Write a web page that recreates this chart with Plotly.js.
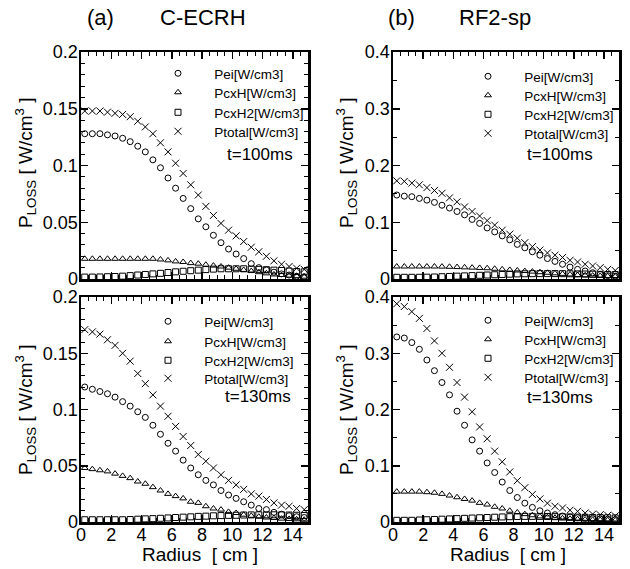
<!DOCTYPE html>
<html>
<head>
<meta charset="utf-8">
<script src="https://cdn.plot.ly/plotly-3.0.1.min.js"></script>
<style>html,body{margin:0;padding:0;background:#fff;}#chart{width:630px;height:569px;}</style>
</head>
<body>
<div id="chart"></div>
<script>
// ---- data ----
const radius = [0.25,0.75,1.25,1.75,2.25,2.75,3.25,3.75,4.25,4.75,5.25,5.75,6.25,6.75,7.25,7.75,8.25,8.75,9.25,9.75,10.25,10.75,11.25,11.75,12.25,12.75,13.25,13.75,14.25,14.75];
const seriesNames = ["Pei[W/cm3]","PcxH[W/cm3]","PcxH2[W/cm3]","Ptotal[W/cm3]"];

// (a) C-ECRH, t=100ms
const a100_pei   = [0.128,0.128,0.128,0.127,0.126,0.124,0.121,0.117,0.112,0.105,0.098,0.089,0.080,0.071,0.062,0.053,0.046,0.0385,0.032,0.0264,0.022,0.018,0.0135,0.010,0.008,0.006,0.0045,0.0035,0.0025,0.002];
const a100_pcxh  = [0.0178,0.0178,0.0178,0.0178,0.0178,0.0178,0.0178,0.0178,0.0178,0.0178,0.0172,0.0164,0.0155,0.015,0.014,0.0135,0.0126,0.0118,0.011,0.010,0.009,0.008,0.007,0.006,0.005,0.004,0.0035,0.003,0.0025,0.002];
const a100_pcxh2 = [0.0017,0.0017,0.0018,0.002,0.0022,0.0025,0.003,0.0035,0.004,0.0045,0.005,0.0057,0.0063,0.0068,0.0073,0.0078,0.0083,0.0087,0.009,0.009,0.009,0.009,0.0088,0.0085,0.0082,0.0078,0.0075,0.007,0.0066,0.0063];
const a100_ptot  = [0.148,0.148,0.148,0.147,0.146,0.145,0.143,0.139,0.134,0.128,0.120,0.112,0.102,0.093,0.083,0.074,0.064,0.056,0.049,0.043,0.038,0.033,0.028,0.024,0.020,0.016,0.013,0.011,0.0095,0.0085];

// (b) RF2-sp, t=100ms
const b100_pei   = [0.148,0.146,0.145,0.142,0.139,0.135,0.130,0.125,0.119,0.113,0.105,0.098,0.090,0.083,0.076,0.069,0.061,0.055,0.048,0.042,0.036,0.031,0.026,0.021,0.017,0.014,0.011,0.008,0.006,0.005];
const b100_pcxh  = [0.022,0.022,0.022,0.022,0.022,0.022,0.0218,0.0215,0.021,0.0205,0.020,0.0195,0.019,0.018,0.017,0.016,0.015,0.014,0.013,0.012,0.011,0.010,0.009,0.008,0.007,0.0065,0.006,0.0055,0.005,0.0045];
const b100_pcxh2 = [0.003,0.003,0.003,0.003,0.0032,0.0035,0.004,0.0045,0.005,0.0055,0.006,0.0065,0.007,0.0075,0.008,0.0085,0.009,0.0092,0.0094,0.0095,0.0095,0.0095,0.0094,0.0092,0.009,0.0088,0.0085,0.0082,0.008,0.0078];
const b100_ptot  = [0.173,0.172,0.169,0.166,0.161,0.156,0.151,0.143,0.136,0.127,0.119,0.111,0.103,0.095,0.086,0.079,0.072,0.064,0.057,0.051,0.046,0.042,0.038,0.033,0.030,0.026,0.023,0.020,0.017,0.015];

// (a) C-ECRH, t=130ms
const a130_pei   = [0.120,0.118,0.116,0.114,0.111,0.107,0.103,0.098,0.093,0.086,0.078,0.070,0.063,0.055,0.048,0.042,0.037,0.033,0.028,0.024,0.021,0.018,0.015,0.012,0.011,0.0086,0.007,0.0056,0.0047,0.004];
const a130_pcxh  = [0.048,0.047,0.046,0.045,0.043,0.041,0.039,0.036,0.034,0.031,0.028,0.025,0.023,0.021,0.018,0.017,0.014,0.012,0.011,0.009,0.008,0.0065,0.0055,0.0047,0.004,0.0035,0.003,0.0027,0.0024,0.002];
const a130_pcxh2 = [0.002,0.002,0.002,0.002,0.002,0.002,0.0022,0.0025,0.0028,0.003,0.0033,0.0036,0.004,0.0043,0.0046,0.005,0.0052,0.0055,0.0057,0.0059,0.006,0.0062,0.0063,0.0064,0.0064,0.0064,0.0063,0.0062,0.006,0.0058];
const a130_ptot  = [0.171,0.169,0.167,0.162,0.157,0.150,0.143,0.132,0.123,0.113,0.103,0.094,0.085,0.076,0.068,0.060,0.054,0.048,0.042,0.037,0.033,0.029,0.025,0.023,0.020,0.017,0.015,0.014,0.012,0.011];

// (b) RF2-sp, t=130ms
const b130_pei   = [0.329,0.327,0.319,0.307,0.288,0.269,0.248,0.226,0.197,0.172,0.146,0.126,0.105,0.088,0.071,0.056,0.0435,0.0335,0.026,0.020,0.016,0.013,0.0106,0.0088,0.0076,0.0065,0.0058,0.0052,0.0047,0.0043];
const b130_pcxh  = [0.054,0.054,0.054,0.054,0.053,0.052,0.050,0.047,0.044,0.041,0.038,0.034,0.031,0.027,0.024,0.020,0.017,0.014,0.012,0.010,0.0085,0.0075,0.0065,0.0058,0.005,0.0045,0.004,0.0037,0.0034,0.003];
const b130_pcxh2 = [0.003,0.003,0.003,0.0035,0.004,0.0045,0.005,0.0055,0.006,0.0065,0.007,0.0075,0.008,0.0085,0.009,0.0095,0.0098,0.010,0.010,0.010,0.0098,0.0095,0.0092,0.009,0.0087,0.0084,0.0081,0.0078,0.0075,0.0072];
const b130_ptot  = [0.388,0.383,0.374,0.362,0.344,0.322,0.300,0.275,0.248,0.222,0.196,0.169,0.148,0.126,0.107,0.089,0.0735,0.061,0.049,0.041,0.0335,0.028,0.025,0.021,0.019,0.016,0.014,0.013,0.012,0.011];

const timeLabels = ["t=100ms","t=100ms","t=130ms","t=130ms"];
const panelTitles = [["(a)","C-ECRH"],["(b)","RF2-sp"]];
const xTitle = "Radius  [ cm ]";
const yTitle = "P<sub>LOSS</sub> [ W/cm<sup>3</sup> ]";

// ---- layout helpers ----
const W = 630, H = 569;
const FONT = "Liberation Sans, Arial, Helvetica, sans-serif";
const px = v => v / W;
const py = v => 1 - v / H;
const GAP = "\u00a0\u00a0\u00a0";

const symbols = ["circle-open","triangle-up-open","square-open","x-thin-open"];
const sizes = [6,6,6,7];

const panels = [
  {data:[a100_pei,a100_pcxh,a100_pcxh2,a100_ptot], xa:"x",  ya:"y"},
  {data:[b100_pei,b100_pcxh,b100_pcxh2,b100_ptot], xa:"x2", ya:"y2"},
  {data:[a130_pei,a130_pcxh,a130_pcxh2,a130_ptot], xa:"x3", ya:"y3"},
  {data:[b130_pei,b130_pcxh,b130_pcxh2,b130_ptot], xa:"x4", ya:"y4"}
];

// legend rows: symbol centre x and row centre y for each panel (pixels)
const legSymX = [178, 488, 168, 488];
const legRowY = [[73,92,112,131],[76,95,114,133],[321,341,360,378],[320,339,358,377]];

const traces = [];
const legends = {};
let legIdx = 0;
panels.forEach((p, pi) => {
  p.data.forEach((vals, k) => {
    legIdx++;
    const lname = legIdx === 1 ? "legend" : "legend" + legIdx;
    traces.push({
      type:"scatter", mode:"markers", x: radius, y: vals,
      name: GAP + seriesNames[k], xaxis:p.xa, yaxis:p.ya, legend:lname,
      marker:{symbol:symbols[k], size:sizes[k], color:"#000", line:{color:"#000", width:1}},
      showlegend:true
    });
    legends[lname] = {
      x:px(legSymX[pi] - 25), y:py(legRowY[pi][k] - 15), xanchor:"left", yanchor:"top",
      bgcolor:"rgba(0,0,0,0)", borderwidth:0,
      font:{family:FONT, size:13.5, color:"#000"}, itemwidth:40
    };
  });
});

const boxes = [
  {x0:81, x1:308, y0:52,  y1:279},
  {x0:393,x1:619, y0:52,  y1:279},
  {x0:81, x1:308, y0:297, y1:522},
  {x0:393,x1:619, y0:297, y1:522}
];
const ymax = [0.2,0.4,0.2,0.4];

function xaxis(i){
  const b = boxes[i];
  return {
    domain:[px(b.x0), px(b.x1)], anchor: i===0?"y":"y"+(i+1),
    range:[0,15], dtick:2, tick0:0, ticks:"inside", ticklen:7, tickwidth:1.5, tickcolor:"#000",
    minor:{dtick:0.5, ticks:"inside", ticklen:4, tickwidth:1, tickcolor:"#000"},
    showline:true, linewidth:2.5, linecolor:"#000", mirror:"ticks",
    showgrid:false, zeroline:false, showticklabels: i>=2, ticklabelstandoff:-5,
    tickfont:{family:FONT, size:18, color:"#000"}
  };
}
function yaxis(i){
  const b = boxes[i];
  const big = ymax[i] > 0.3;
  return {
    domain:[py(b.y1), py(b.y0)], anchor: i===0?"x":"x"+(i+1),
    range:[0, ymax[i]], dtick: big?0.1:0.05, tick0:0,
    ticks:"inside", ticklen:7, tickwidth:1.5, tickcolor:"#000",
    minor:{dtick: big?0.05:0.01, ticks:"inside", ticklen:4, tickwidth:1, tickcolor:"#000"},
    showline:true, linewidth:2.5, linecolor:"#000", mirror:"ticks",
    showgrid:false, zeroline:false, ticklabelstandoff:-3,
    tickfont:{family:FONT, size:18, color:"#000"}
  };
}

const annotations = [];
annotations.push({text:panelTitles[0][0], x:px(100), y:py(18)});
annotations.push({text:panelTitles[0][1], x:px(203), y:py(18)});
annotations.push({text:panelTitles[1][0], x:px(401), y:py(18)});
annotations.push({text:panelTitles[1][1], x:px(495), y:py(18)});
annotations.forEach(a => { a.font = {family:FONT, size:22, color:"#000"}; });
const tPos = [{x:260,y:155},{x:560,y:155},{x:258,y:396},{x:560,y:397}];
tPos.forEach((p,i) => annotations.push({text:timeLabels[i], x:px(p.x), y:py(p.y), font:{family:FONT, size:17, color:"#000"}}));
const yTPos = [{x:25,y:163},{x:346,y:163},{x:25,y:410},{x:346,y:410}];
yTPos.forEach(p => annotations.push({text:yTitle, x:px(p.x), y:py(p.y), textangle:-90, font:{family:FONT, size:19, color:"#000"}}));
annotations.push({text:xTitle, x:px(200), y:py(554), font:{family:FONT, size:19, color:"#000"}});
annotations.push({text:xTitle, x:px(508), y:py(554), font:{family:FONT, size:19, color:"#000"}});
annotations.forEach(a => { a.xref="paper"; a.yref="paper"; a.showarrow=false; a.xanchor="center"; a.yanchor="middle"; });

const layout = Object.assign({
  width:W, height:H, margin:{l:0,r:0,t:0,b:0},
  paper_bgcolor:"#fff", plot_bgcolor:"#fff",
  font:{family:FONT, size:14, color:"#000"},
  xaxis:xaxis(0), xaxis2:xaxis(1), xaxis3:xaxis(2), xaxis4:xaxis(3),
  yaxis:yaxis(0), yaxis2:yaxis(1), yaxis3:yaxis(2), yaxis4:yaxis(3),
  annotations: annotations
}, legends);

Plotly.newPlot("chart", traces, layout, {staticPlot:true, displayModeBar:false});
</script>
</body>
</html>
